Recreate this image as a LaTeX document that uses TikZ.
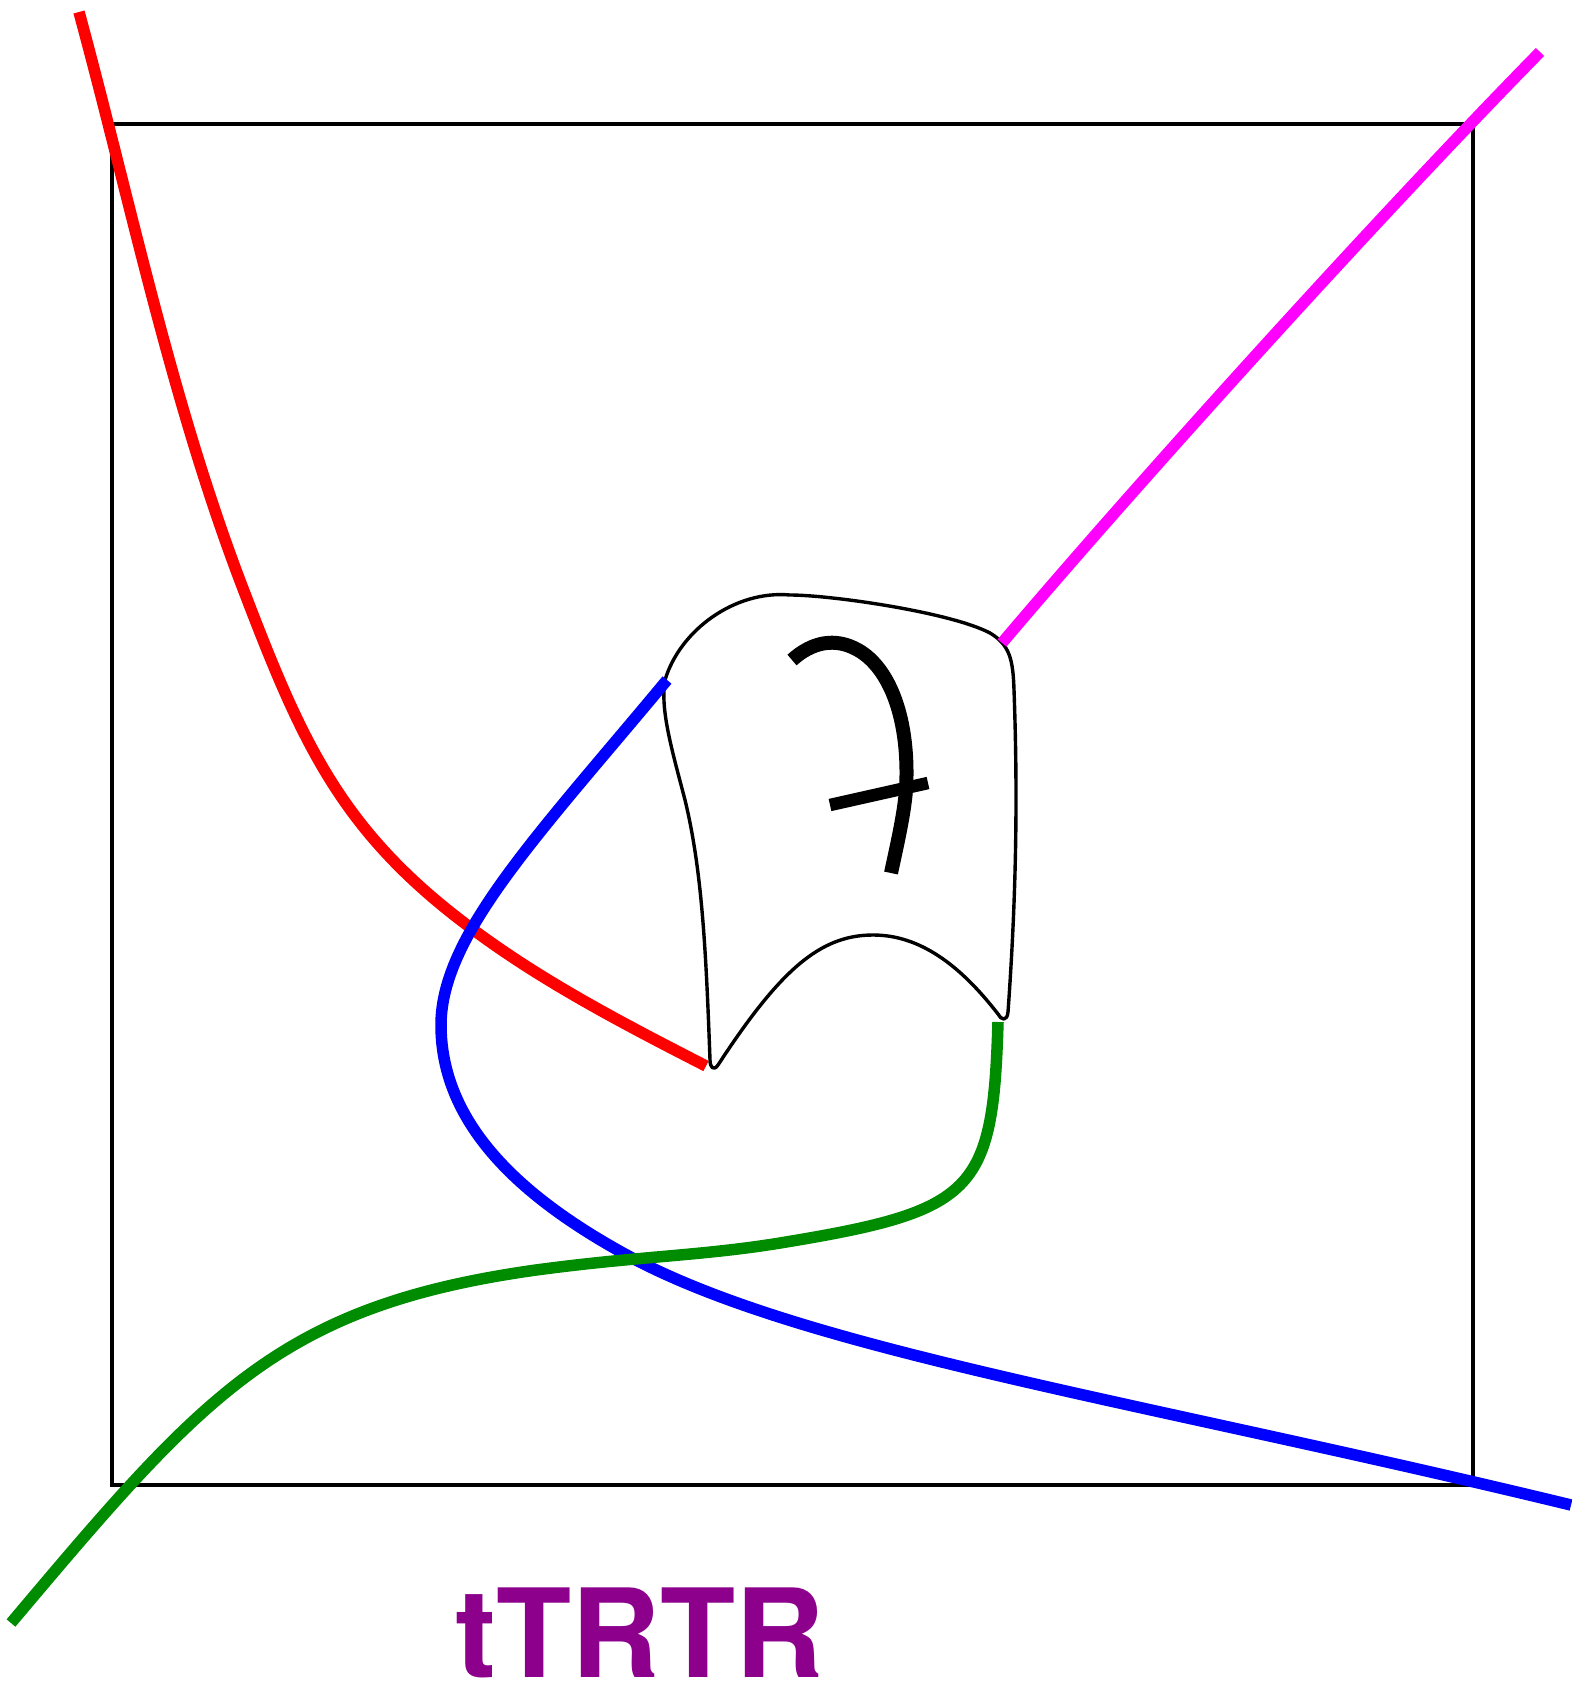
\documentclass[tikz,border=0pt]{standalone}
\usepackage{fontspec}
\setsansfont{TeX Gyre Heros}
\definecolor{lgreen}{RGB}{0,140,0}
\definecolor{lpurple}{RGB}{140,0,140}
\definecolor{lmagenta}{RGB}{255,0,255}
\tikzset{band/.style={line width=11.5pt},outline/.style={line width=3.4pt,line join=round}}

\begin{document}
\begin{tikzpicture}[x=1pt,y=-1pt]
\useasboundingbox (0,0) rectangle (1571,1685);
\draw[line width=4pt] (112,124) rectangle (1473,1485);

\coordinate (bA) at (667,680);
\coordinate (mA) at (1002,643);
\coordinate (rA) at (706,1066);
\coordinate (gA) at (998,1022);
\coordinate (r0) at (79,12);
\coordinate (b0) at (1571,1505);
\coordinate (g0) at (11,1623);
\coordinate (m0) at (1540,52);

% the patch
\draw[outline] (665,680) .. controls (680,630) and (735,590) .. (790,595)
  .. controls (830,595) and (950,612) .. (990,633)
  .. controls (1010,645) and (1013,660) .. (1014,690)
  .. controls (1018,800) and (1016,900) .. (1008,1012)
  .. controls (1007,1022) and (1001,1020) .. (998,1014)
  .. controls (960,965) and (920,935) .. (873,935)
  .. controls (820,935) and (780,970) .. (718,1065)
  .. controls (714,1071) and (710,1068) .. (710,1060)
  .. controls (706,950) and (702,870) .. (685,800)
  .. controls (672,750) and (660,710) .. cycle;
\draw[line width=14pt] (792,660) .. controls (812,642) and (835,637) .. (858,650)
  .. controls (890,668) and (910,720) .. (906,790) .. controls (904,815) and (897,845) .. (891,873);
\draw[line width=12.5pt] (830,805) -- (928,783);

% legs
\draw[band,red] (r0) .. controls (131,204) and (171,400) .. (242,586)
  .. controls (301,740) and (339,830) .. (471,928)
  .. controls (543,982) and (626,1025) .. (rA);
\draw[band,blue] (bA) .. controls (539,834) and (441,935) .. (441,1025)
  .. controls (441,1130) and (531,1202) .. (623,1253)
  .. controls (798,1350) and (1134,1399) .. (b0);
\draw[band,lgreen] (g0) .. controls (204,1394) and (279,1306) .. (536,1270)
  .. controls (640,1256) and (700,1256) .. (780,1243)
  .. controls (975,1211) and (993,1193) .. (gA);
\draw[band,lmagenta] (mA) .. controls (1140,480) and (1380,215) .. (m0);

\node[anchor=base west,inner sep=0pt,text=lpurple,font=\sffamily\bfseries\fontsize{123}{123}\selectfont]
  (name) at (455,1677) {tTRTR};
\end{tikzpicture}
\end{document}
